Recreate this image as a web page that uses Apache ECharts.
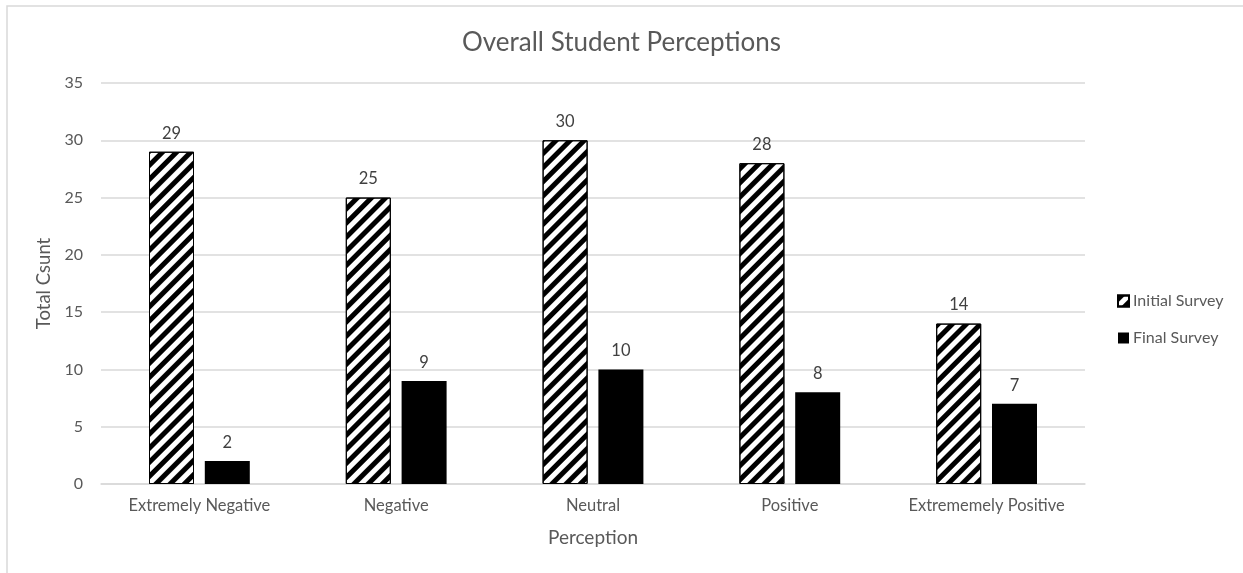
<!DOCTYPE html>
<html>
<head>
<meta charset="utf-8">
<script src="https://cdn.jsdelivr.net/npm/echarts@6/dist/echarts.min.js"></script>
<style>
  html, body { margin: 0; padding: 0; background: #fff; }
  #chart { width: 1243px; height: 573px; }
</style>
</head>
<body>
<div id="chart"></div>
<script>
// Survey responses grouped by perception level
const categories = ['Extremely Negative', 'Negative', 'Neutral', 'Positive', 'Extrememely Positive'];
const initialSurvey = [29, 25, 30, 28, 14];
const finalSurvey = [2, 9, 10, 8, 7];
const yTicks = { min: 0, max: 35, interval: 5 };

const FONT = 'Lato, "Open Sans", sans-serif';
const TEXT = '#595959';

const chart = echarts.init(document.getElementById('chart'), null, { renderer: 'canvas' });

chart.setOption({
  backgroundColor: '#fff',
  animation: false,
  graphic: [{
    type: 'rect',
    shape: { x: 7, y: 6, width: 1260, height: 600 },
    style: { fill: 'none', stroke: '#d9d9d9', lineWidth: 1.5 },
    silent: true,
    z: -1
  }],
  title: {
    text: 'Overall Student Perceptions',
    left: 'center',
    top: 25,
    textStyle: { fontFamily: FONT, fontSize: 26, fontWeight: 'normal', color: TEXT }
  },
  legend: {
    orient: 'vertical',
    left: 1112,
    top: 288,
    itemWidth: 11,
    itemHeight: 11,
    itemGap: 21,
    icon: 'rect',
    textStyle: { fontFamily: FONT, fontSize: 16, color: TEXT, padding: [0, 0, 0, -1] },
    data: ['Initial Survey', 'Final Survey']
  },
  grid: { left: 101, right: 158, top: 83, bottom: 89, containLabel: false },
  xAxis: {
    type: 'category',
    data: categories,
    name: 'Perception',
    nameLocation: 'middle',
    nameGap: 44,
    nameTextStyle: { fontFamily: FONT, fontSize: 19, color: TEXT },
    axisLine: { lineStyle: { color: '#d9d9d9', width: 1.5 } },
    axisTick: { show: false },
    axisLabel: { interval: 0, fontFamily: FONT, fontSize: 16.5, color: TEXT, margin: 13 }
  },
  yAxis: {
    type: 'value',
    min: yTicks.min,
    max: yTicks.max,
    interval: yTicks.interval,
    name: 'Total Csunt',
    nameLocation: 'middle',
    nameGap: 46,
    nameTextStyle: { fontFamily: FONT, fontSize: 18.5, color: TEXT },
    axisLine: { show: false },
    axisTick: { show: false },
    splitLine: { lineStyle: { color: '#d9d9d9', width: 1.5 } },
    axisLabel: { fontFamily: FONT, fontSize: 16, color: TEXT, margin: 18 }
  },
  series: [
    {
      name: 'Initial Survey',
      type: 'bar',
      data: initialSurvey,
      barWidth: 45,
      barGap: '24%',
      itemStyle: {
        color: '#ffffff',
        borderColor: '#000',
        borderWidth: 1,
        decal: {
          symbol: 'rect',
          color: '#000',
          dashArrayX: [1, 0],
          dashArrayY: [4.5, 4.5],
          rotation: -Math.PI / 4
        }
      },
      label: {
        show: true,
        position: 'top',
        distance: 10,
        fontFamily: FONT,
        fontSize: 16.5,
        color: '#404040'
      }
    },
    {
      name: 'Final Survey',
      type: 'bar',
      data: finalSurvey,
      barWidth: 45,
      itemStyle: { color: '#000' },
      label: {
        show: true,
        position: 'top',
        distance: 10,
        fontFamily: FONT,
        fontSize: 16.5,
        color: '#404040'
      }
    }
  ]
});
</script>
</body>
</html>
